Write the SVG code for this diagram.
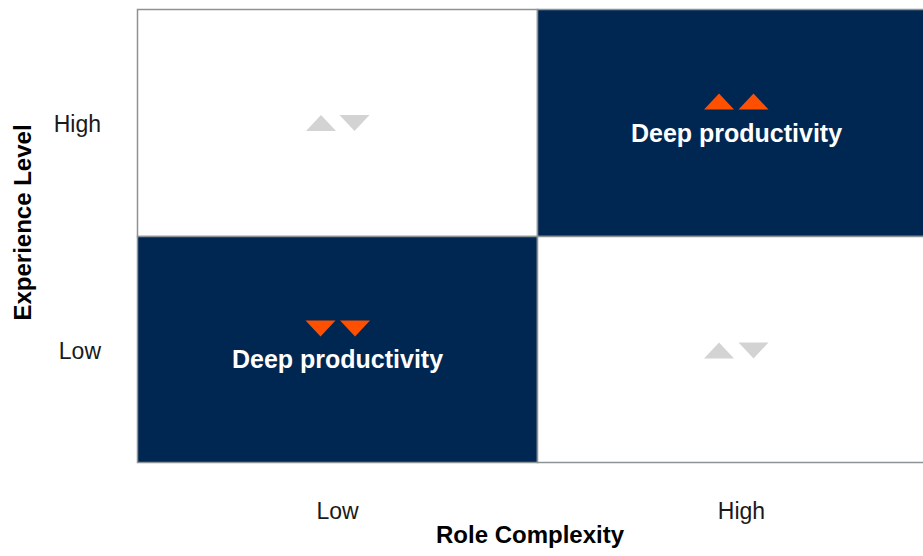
<svg xmlns="http://www.w3.org/2000/svg" width="923" height="556" viewBox="0 0 923 556">
  <style>
    .cell-light { fill: #ffffff; stroke: #8c9394; stroke-width: 1.5; }
    .cell-dark { fill: #002652; stroke: #8c9394; stroke-width: 1.5; }
    .mark-grey { fill: #d3d3d3; }
    .mark-orange { fill: #fe5000; }
    .cell-label { font-family: "Liberation Sans", Arial, sans-serif; font-weight: bold; font-size: 25px; fill: #ffffff; text-anchor: middle; }
    .tick { font-family: "Liberation Sans", Arial, sans-serif; font-size: 23px; fill: #1a1a1a; }
    .axis-title { font-family: "Liberation Sans", Arial, sans-serif; font-weight: bold; font-size: 24px; fill: #000000; text-anchor: middle; }
  </style>
  <defs>
    <!-- triangle shapes, 30 wide and 16 tall, anchored at top-left -->
    <path id="tri-up" d="M0 16 L15 0 L30 16 Z"/>
    <path id="tri-down" d="M0 0 L30 0 L15 16 Z"/>
  </defs>

  <rect width="923" height="556" fill="#ffffff"/>

  <!-- quadrant: low complexity, high experience -->
  <g id="q-low-high">
    <rect class="cell-light" x="137.5" y="9.5" width="400" height="227"/>
    <use href="#tri-up" class="mark-grey" x="306" y="115"/>
    <use href="#tri-down" class="mark-grey" x="339.5" y="115"/>
  </g>

  <!-- quadrant: high complexity, high experience -->
  <g id="q-high-high">
    <rect class="cell-dark" x="537.5" y="9.5" width="400" height="227"/>
    <use href="#tri-up" class="mark-orange" x="704" y="93.5"/>
    <use href="#tri-up" class="mark-orange" x="738.5" y="93.5"/>
    <text class="cell-label" x="736.5" y="141.5">Deep productivity</text>
  </g>

  <!-- quadrant: low complexity, low experience -->
  <g id="q-low-low">
    <rect class="cell-dark" x="137.5" y="236.5" width="400" height="226"/>
    <use href="#tri-down" class="mark-orange" x="305.5" y="320.5"/>
    <use href="#tri-down" class="mark-orange" x="340" y="320.5"/>
    <text class="cell-label" x="337.5" y="368">Deep productivity</text>
  </g>

  <!-- quadrant: high complexity, low experience -->
  <g id="q-high-low">
    <rect class="cell-light" x="537.5" y="236.5" width="400" height="226"/>
    <use href="#tri-up" class="mark-grey" x="704" y="342.5"/>
    <use href="#tri-down" class="mark-grey" x="738.5" y="342.5"/>
  </g>

  <!-- vertical axis -->
  <g id="axis-y">
    <text class="tick" x="101" y="132" text-anchor="end">High</text>
    <text class="tick" x="101" y="359" text-anchor="end">Low</text>
    <text class="axis-title" font-size="25.5" transform="translate(31 222.5) rotate(-90)">Experience Level</text>
  </g>

  <!-- horizontal axis -->
  <g id="axis-x">
    <text class="tick" x="337.5" y="519" text-anchor="middle">Low</text>
    <text class="tick" x="741.5" y="519" text-anchor="middle">High</text>
    <text class="axis-title" x="530" y="543" font-size="23">Role Complexity</text>
  </g>

  <g id="connectors"/>
</svg>
